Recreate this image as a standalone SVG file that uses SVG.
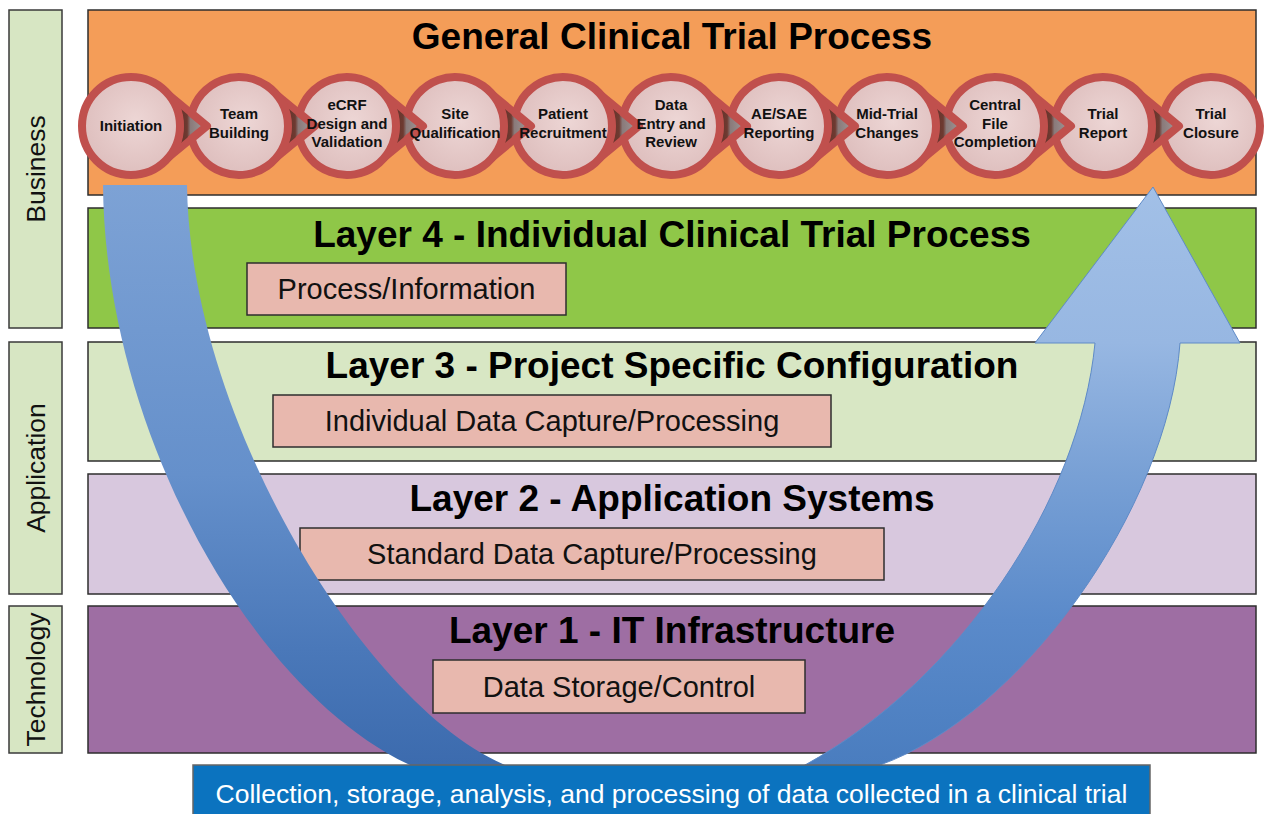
<svg xmlns="http://www.w3.org/2000/svg" xmlns:xlink="http://www.w3.org/1999/xlink" width="1265" height="814" viewBox="0 0 1265 814">
<defs>
<style>
.side rect{fill:#D7E6C3;stroke:#3A3A3A;stroke-width:1.5}
.side text{font-family:'Liberation Sans',Arial,sans-serif;font-size:26.5px;fill:#111;text-anchor:middle}
.band{stroke:#2E2E2E;stroke-width:1.5}
.title{font-family:'Liberation Sans',Arial,sans-serif;font-weight:bold;font-size:37px;fill:#000;text-anchor:middle}
.sub rect{fill:#E8B8AE;stroke:#2E2E2E;stroke-width:1.5}
.sub text{font-family:'Liberation Sans',Arial,sans-serif;font-size:29px;fill:#111;text-anchor:middle}
.step .shape{fill:url(#stepFill);stroke:#C0504D;stroke-width:8;stroke-linejoin:round}
.step text{font-family:'Liberation Sans',Arial,sans-serif;font-weight:bold;font-size:15px;fill:#111;text-anchor:middle}
.chev{fill:url(#chevFill);stroke:#C0504D;stroke-width:7;stroke-linejoin:miter}
.bottom text{font-family:'Liberation Sans',Arial,sans-serif;font-size:26.5px;fill:#fff;text-anchor:middle}
</style>
<radialGradient id="stepFill" cx="0.55" cy="0.45" r="0.6">
<stop offset="0" stop-color="#EDD6D5"/>
<stop offset="1" stop-color="#DDBDBC"/>
</radialGradient>
<linearGradient id="chevFill" x1="0" y1="0" x2="1" y2="0">
<stop offset="0" stop-color="#5A2620"/>
<stop offset="0.5" stop-color="#6E3A31"/>
<stop offset="0.58" stop-color="#8A7A7A"/>
<stop offset="1" stop-color="#A49C9C"/>
</linearGradient>
<linearGradient id="leftArm" gradientUnits="userSpaceOnUse" x1="0" y1="185" x2="0" y2="765">
<stop offset="0" stop-color="#7DA2D5"/>
<stop offset="0.5" stop-color="#6590CB"/>
<stop offset="0.8" stop-color="#4A78B9"/>
<stop offset="1" stop-color="#3C6BAE"/>
</linearGradient>
<linearGradient id="rightArm" gradientUnits="userSpaceOnUse" x1="0" y1="187" x2="0" y2="765">
<stop offset="0" stop-color="#A2C0E7"/>
<stop offset="0.27" stop-color="#97B7E2"/>
<stop offset="0.5" stop-color="#78A0D5"/>
<stop offset="0.75" stop-color="#5A8ACA"/>
<stop offset="1" stop-color="#4A7DBF"/>
</linearGradient>
<path id="chev" d="M36.4,-32.8 L76,0 L36.4,32.8 A49,49 0 0 0 36.4,-32.8 Z"/>
<path id="notched" d="M-47.33,-12.7 A49,49 0 1 1 -47.33,12.7 L-32,0 Z"/>
</defs>

<rect width="1265" height="814" fill="#fff"/>

<g id="label-business" class="side">
<rect x="9" y="10" width="53" height="318"/>
<text transform="translate(45,169) rotate(-90)">Business</text>
</g>
<g id="label-application" class="side">
<rect x="9" y="342" width="53" height="252"/>
<text transform="translate(45,468) rotate(-90)">Application</text>
</g>
<g id="label-technology" class="side">
<rect x="9" y="606" width="53" height="147"/>
<text transform="translate(45,679.5) rotate(-90)">Technology</text>
</g>

<g id="band-general">
<rect class="band" x="88" y="10" width="1168" height="185" fill="#F49D58"/>
<text class="title" x="672" y="49">General Clinical Trial Process</text>
</g>
<g id="band-layer4">
<rect class="band" x="88" y="208" width="1168" height="120" fill="#8FC748"/>
<text class="title" x="672" y="247">Layer 4 - Individual Clinical Trial Process</text>
</g>
<g id="box-process-information" class="sub">
<rect x="247" y="263" width="319" height="52"/>
<text x="406.5" y="299">Process/Information</text>
</g>
<g id="band-layer3">
<rect class="band" x="88" y="342" width="1168" height="119" fill="#D8E7C4"/>
<text class="title" x="672" y="378">Layer 3 - Project Specific Configuration</text>
</g>
<g id="box-individual-data" class="sub">
<rect x="273" y="395" width="558" height="52"/>
<text x="552" y="431">Individual Data Capture/Processing</text>
</g>
<g id="band-layer2">
<rect class="band" x="88" y="474" width="1168" height="120" fill="#D8C8DE"/>
<text class="title" x="672" y="511">Layer 2 - Application Systems</text>
</g>
<g id="box-standard-data" class="sub">
<rect x="300" y="528" width="584" height="52"/>
<text x="592" y="564">Standard Data Capture/Processing</text>
</g>
<g id="band-layer1">
<rect class="band" x="88" y="606" width="1168" height="147" fill="#9E6EA3"/>
<text class="title" x="672" y="643">Layer 1 - IT Infrastructure</text>
</g>
<g id="box-data-storage" class="sub">
<rect x="433" y="660" width="372" height="53"/>
<text x="619" y="697">Data Storage/Control</text>
</g>

<g id="connectors">
<path id="arrow-down" fill="url(#leftArm)" d="M103,185 L187,185 C190,420 365,705 505,765 L560,795 L650,800 L650,812 L480,812 L410,765 C250,690 105,430 103,185 Z"/>
<path id="arrow-up" fill="url(#rightArm)" stroke="#5E8AC7" stroke-width="1" d="M650,800 L750,795 L805,765 C960,680 1080,500 1095,343 L1035,343 L1153,187 L1240,343 L1180,343 C1168,510 1020,715 880,765 L820,812 L650,812 Z"/>
<use href="#chev" class="chev" x="131" y="126"/>
<use href="#chev" class="chev" x="239" y="126"/>
<use href="#chev" class="chev" x="347" y="126"/>
<use href="#chev" class="chev" x="455" y="126"/>
<use href="#chev" class="chev" x="563" y="126"/>
<use href="#chev" class="chev" x="671" y="126"/>
<use href="#chev" class="chev" x="779" y="126"/>
<use href="#chev" class="chev" x="887" y="126"/>
<use href="#chev" class="chev" x="995" y="126"/>
<use href="#chev" class="chev" x="1103" y="126"/>
</g>

<g id="step-initiation" class="step" transform="translate(131,126)">
<circle class="shape" r="49"/>
<text y="5">Initiation</text>
</g>
<g id="step-team-building" class="step" transform="translate(239,126)">
<use class="shape" href="#notched"/>
<text y="-7">Team</text><text y="12">Building</text>
</g>
<g id="step-ecrf" class="step" transform="translate(347,126)">
<use class="shape" href="#notched"/>
<text y="-16">eCRF</text><text y="3">Design and</text><text y="21">Validation</text>
</g>
<g id="step-site-qualification" class="step" transform="translate(455,126)">
<use class="shape" href="#notched"/>
<text y="-7">Site</text><text y="12">Qualification</text>
</g>
<g id="step-patient-recruitment" class="step" transform="translate(563,126)">
<use class="shape" href="#notched"/>
<text y="-7">Patient</text><text y="12">Recruitment</text>
</g>
<g id="step-data-entry" class="step" transform="translate(671,126)">
<use class="shape" href="#notched"/>
<text y="-16">Data</text><text y="3">Entry and</text><text y="21">Review</text>
</g>
<g id="step-ae-sae" class="step" transform="translate(779,126)">
<use class="shape" href="#notched"/>
<text y="-7">AE/SAE</text><text y="12">Reporting</text>
</g>
<g id="step-mid-trial" class="step" transform="translate(887,126)">
<use class="shape" href="#notched"/>
<text y="-7">Mid-Trial</text><text y="12">Changes</text>
</g>
<g id="step-central-file" class="step" transform="translate(995,126)">
<use class="shape" href="#notched"/>
<text y="-16">Central</text><text y="3">File</text><text y="21">Completion</text>
</g>
<g id="step-trial-report" class="step" transform="translate(1103,126)">
<use class="shape" href="#notched"/>
<text y="-7">Trial</text><text y="12">Report</text>
</g>
<g id="step-trial-closure" class="step" transform="translate(1211,126)">
<use class="shape" href="#notched"/>
<text y="-7">Trial</text><text y="12">Closure</text>
</g>

<g id="bottom-bar" class="bottom">
<rect x="193" y="765" width="957" height="60" fill="#0B73BF" stroke="#666" stroke-width="1.5"/>
<text x="671.5" y="803">Collection, storage, analysis, and processing of data collected in a clinical trial</text>
</g>
</svg>
